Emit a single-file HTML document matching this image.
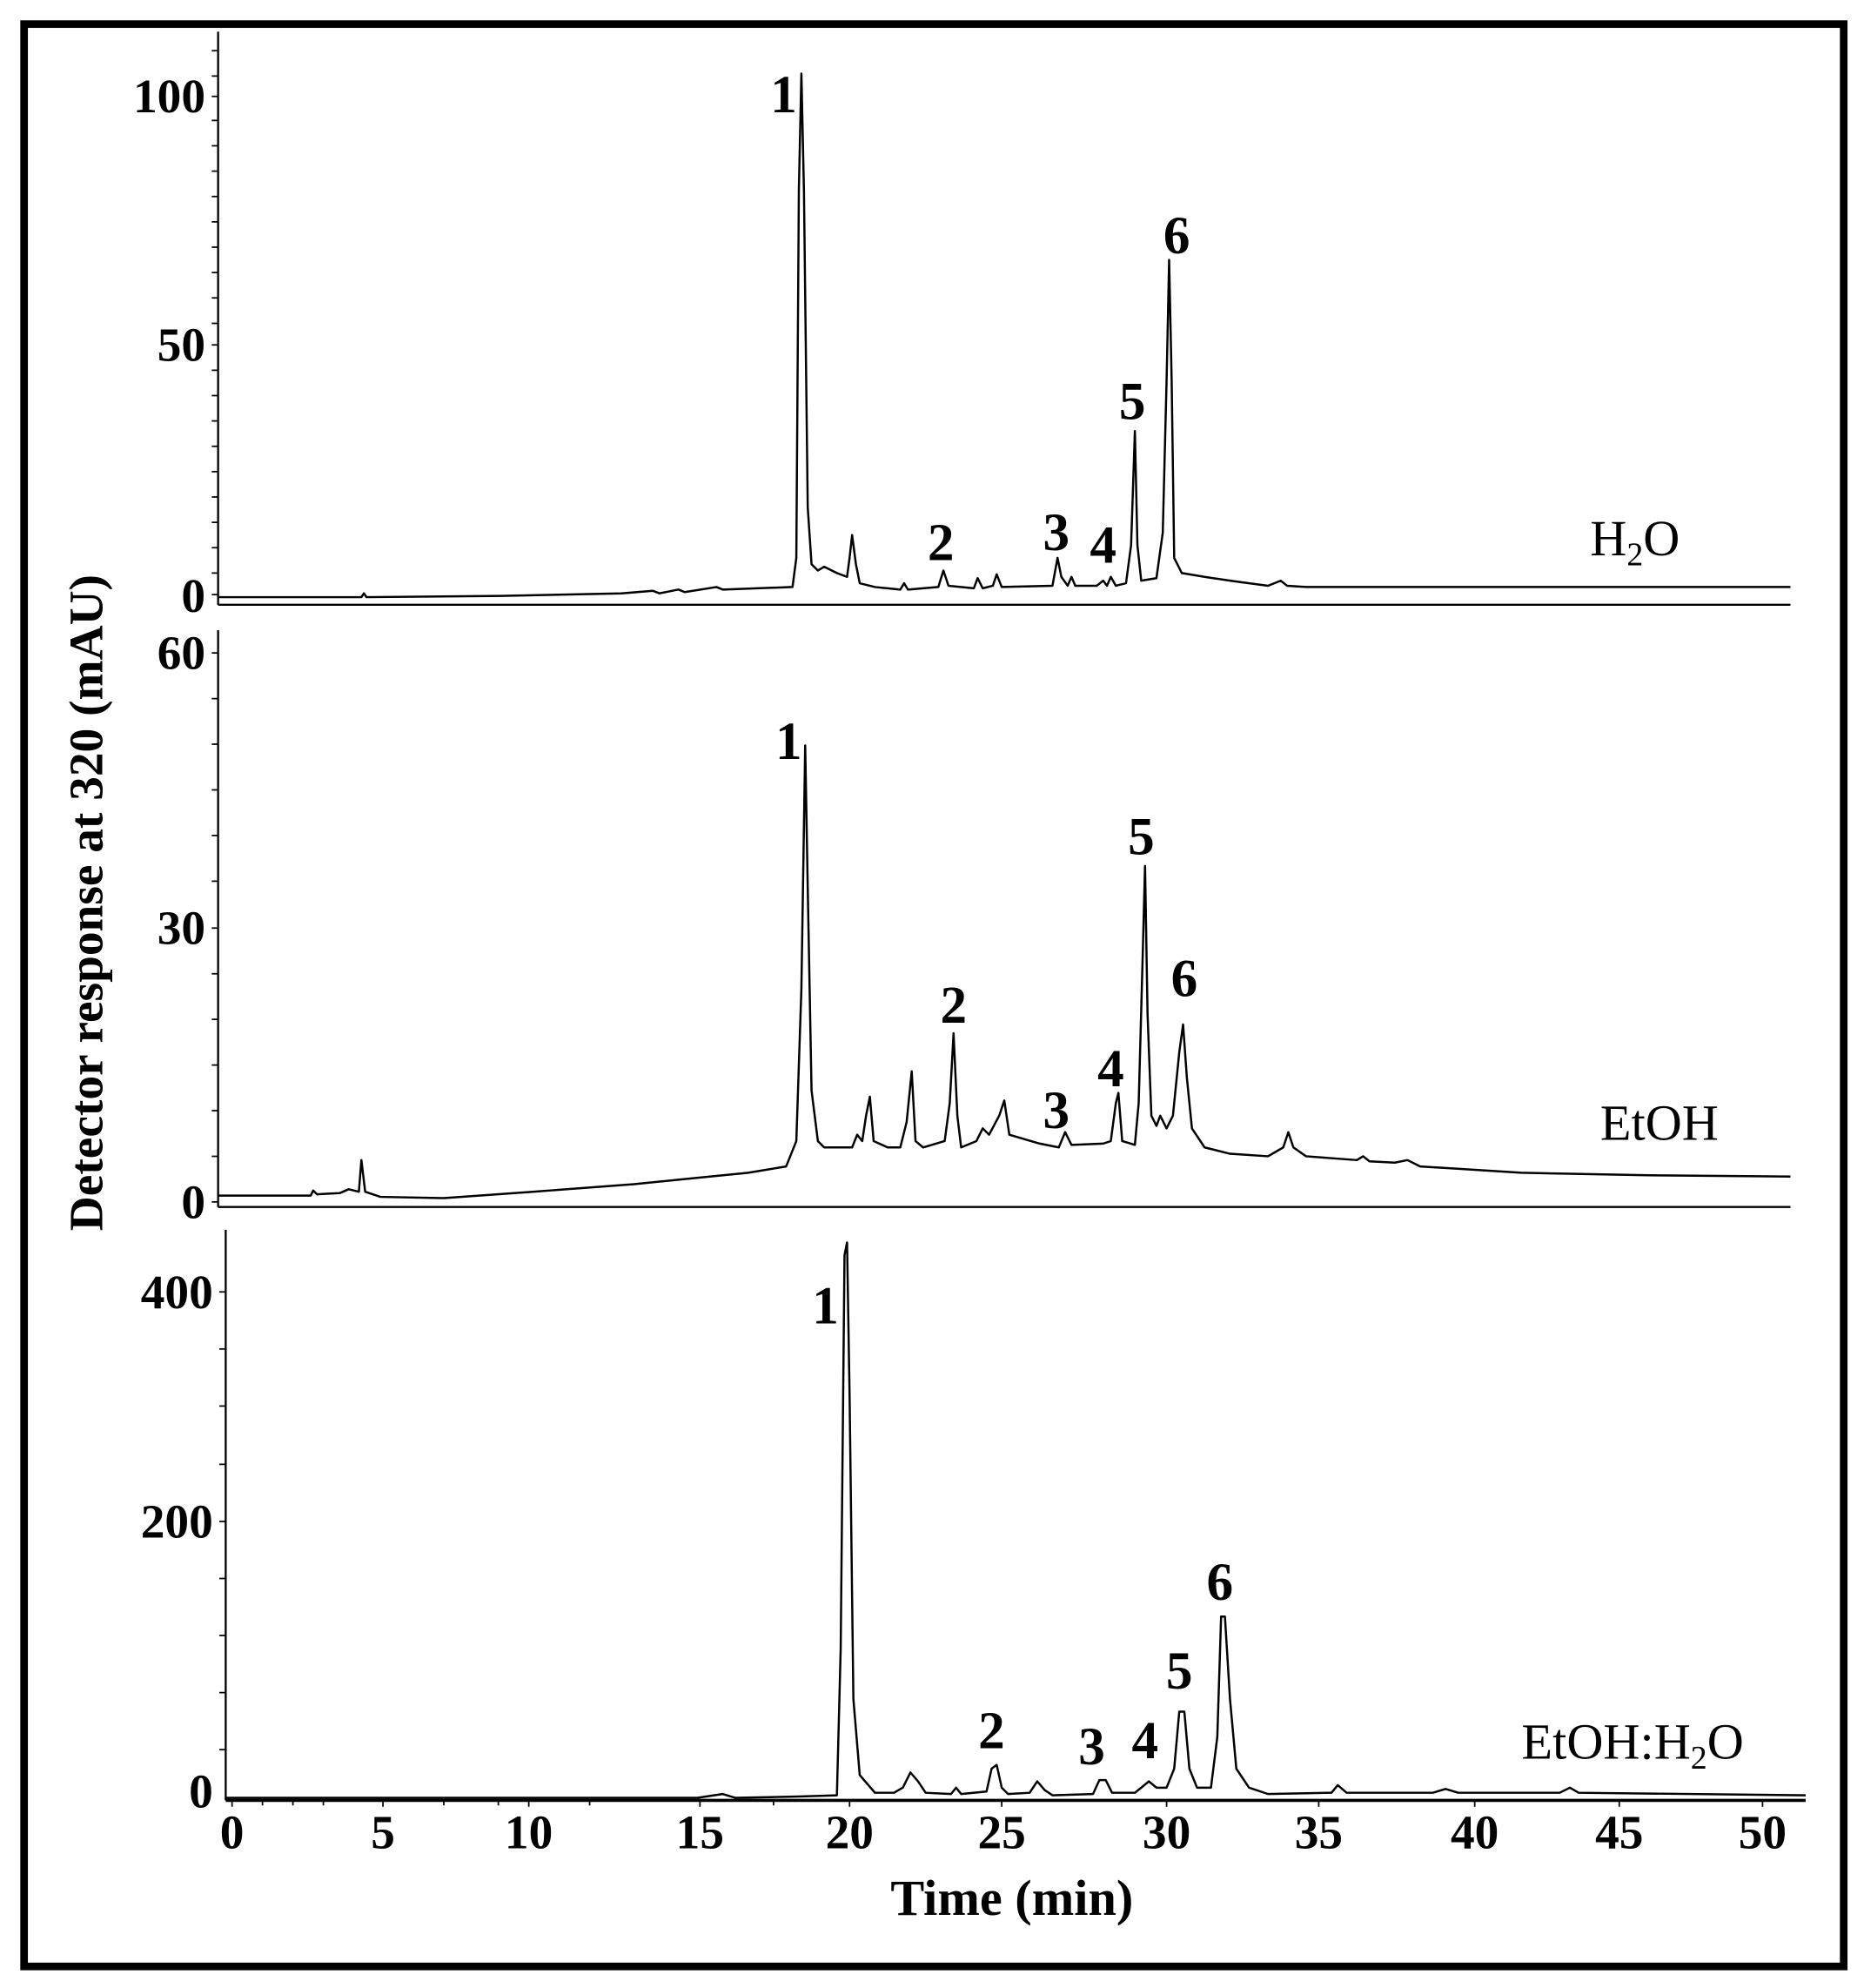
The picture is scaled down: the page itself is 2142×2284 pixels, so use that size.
<!DOCTYPE html>
<html><head><meta charset="utf-8"><style>html,body{margin:0;padding:0;background:#fff}svg{display:block}</style></head>
<body>
<svg width="2142" height="2284" viewBox="0 0 1470 1568" preserveAspectRatio="none" xmlns="http://www.w3.org/2000/svg" font-family="Liberation Serif, serif">
<rect x="0" y="0" width="1470" height="1568" fill="#fff"/>
<rect x="19" y="19" width="1435" height="1532" fill="none" stroke="#000" stroke-width="6"/>
<g stroke="#000" fill="none" stroke-width="1.6">
<line x1="172" y1="25" x2="172" y2="477"/><line x1="172" y1="477" x2="1412" y2="477"/>
<line x1="172" y1="497" x2="172" y2="952"/><line x1="172" y1="952" x2="1412" y2="952"/>
<line x1="178" y1="970" x2="178" y2="1420"/><line x1="178" y1="1420" x2="1424" y2="1420" stroke-width="2.5"/>
<path stroke-width="1.2" d="M167 40h5M167 60h5M167 76h5M167 95h5M167 115h5M167 135h5M167 155h5M167 175h5M167 195h5M167 215h5M167 235h5M167 255h5M167 272h5M167 292h5M167 312h5M167 332h5M167 352h5M167 372h5M167 392h5M167 412h5M167 432h5M167 452h5M167 469h5
M167 515h5M167 551h5M167 587h5M167 623h5M167 659h5M167 695h5M167 732h5M167 768h5M167 804h5M167 840h5M167 876h5M167 912h5M167 948h5
M173 1019h5M173 1064h5M173 1109h5M173 1155h5M173 1200h5M173 1245h5M173 1290h5M173 1335h5M173 1380h5
M183 1420v5M207 1420v4M231 1420v4M255 1420v4M302 1420v5M350 1420v4M393 1420v4M417 1420v5M465 1420v4M552 1420v5M610 1420v4M670 1420v5M790 1420v5M920 1420v5M1040 1420v5M1163 1420v5M1277 1420v5M1390 1420v5"/>
</g>
<g stroke="#000" fill="none" stroke-width="1.7" stroke-linejoin="round">
<polyline points="172,471 285,471 287,468 289,471 395,470 490,468 515,466 520,468 535,465 540,467 565,463 570,465 625,463 628,440 630,150 632,58 634,150 637,400 640,445 645,450 650,447 660,452 668,455 670,440 672,422 675,445 678,460 690,463 710,465 713,460 716,465 740,463 744,450 748,462 768,464 771,456 775,464 783,462 786,453 790,463 830,462 834,440 837,455 842,462 845,455 848,462 865,462 870,458 873,462 876,455 880,462 888,460 892,430 895,340 897,430 900,458 912,456 917,420 920,300 922,205 924,300 926,440 932,452 950,455 970,458 1000,462 1010,458 1015,462 1030,463 1412,463"/>
<polyline points="172,943 245,943 247,939 250,942 268,941 275,938 283,940 285,915 288,940 300,944 350,945 420,940 500,934 540,930 590,925 620,920 628,900 632,780 635,588 637,700 640,860 645,900 650,905 672,905 676,895 680,900 683,880 686,865 689,900 700,905 710,905 715,885 719,845 722,900 728,905 745,900 749,870 752,815 755,880 758,905 770,900 775,890 780,895 788,880 792,868 796,895 820,902 835,905 840,893 845,903 870,902 876,900 880,870 882,862 885,900 895,903 898,870 901,760 903,683 905,800 908,880 912,888 915,880 920,890 925,880 928,850 930,830 933,808 936,850 940,890 950,905 970,910 1000,912 1012,905 1016,893 1020,905 1030,912 1070,915 1075,912 1080,916 1100,917 1110,915 1120,920 1200,925 1300,927 1412,928"/>
<polyline points="178,1418 550,1418 570,1415 580,1418 630,1417 660,1416 663,1300 666,990 668,980 670,1100 673,1340 678,1400 690,1414 705,1414 712,1410 718,1398 724,1405 730,1414 750,1415 754,1410 758,1415 778,1413 782,1395 786,1392 790,1410 795,1415 812,1414 818,1405 824,1412 830,1416 862,1415 867,1404 872,1404 877,1414 895,1414 900,1410 906,1405 912,1410 920,1410 926,1395 930,1350 934,1350 938,1395 944,1410 955,1410 960,1370 963,1275 966,1275 970,1340 975,1395 985,1410 1000,1415 1050,1414 1055,1408 1062,1414 1130,1414 1140,1411 1150,1414 1230,1414 1238,1410 1245,1414 1424,1416"/>
</g>
<g font-weight="bold" font-size="38" text-anchor="end" dominant-baseline="central">
<text x="162" y="76">100</text><text x="162" y="272">50</text><text x="162" y="470">0</text>
<text x="162" y="515">60</text><text x="162" y="732">30</text><text x="162" y="948">0</text>
<text x="168" y="1019">400</text><text x="168" y="1200">200</text><text x="168" y="1413">0</text>
</g>
<g font-weight="bold" font-size="38" text-anchor="middle" dominant-baseline="central">
<text x="183" y="1445">0</text><text x="302" y="1445">5</text><text x="417" y="1445">10</text><text x="552" y="1445">15</text><text x="670" y="1445">20</text><text x="790" y="1445">25</text><text x="920" y="1445">30</text><text x="1040" y="1445">35</text><text x="1163" y="1445">40</text><text x="1277" y="1445">45</text><text x="1390" y="1445">50</text>
<text x="798" y="1497" font-size="40">Time (min)</text>
<text transform="translate(68,712) rotate(-90)" font-size="38">Detector response at 320 (mAU)</text>
</g>
<g font-weight="bold" font-size="42" text-anchor="middle" dominant-baseline="central">
<text x="618" y="75">1</text><text x="742" y="428">2</text><text x="833" y="420">3</text><text x="870" y="430">4</text><text x="893" y="317">5</text><text x="928" y="186">6</text>
<text x="622" y="585">1</text><text x="752" y="793">2</text><text x="833" y="876">3</text><text x="876" y="843">4</text><text x="900" y="660">5</text><text x="934" y="772">6</text>
<text x="651" y="1030">1</text><text x="782" y="1365">2</text><text x="861" y="1378">3</text><text x="903" y="1373">4</text><text x="930" y="1318">5</text><text x="962" y="1248">6</text>
</g>
<g font-size="40">
<text x="1254" y="438">H<tspan font-size="26" dy="8">2</tspan><tspan dy="-8">O</tspan></text>
<text x="1262" y="899">EtOH</text>
<text x="1200" y="1387">EtOH:H<tspan font-size="26" dy="8">2</tspan><tspan dy="-8">O</tspan></text>
</g>
</svg>
</body></html>
